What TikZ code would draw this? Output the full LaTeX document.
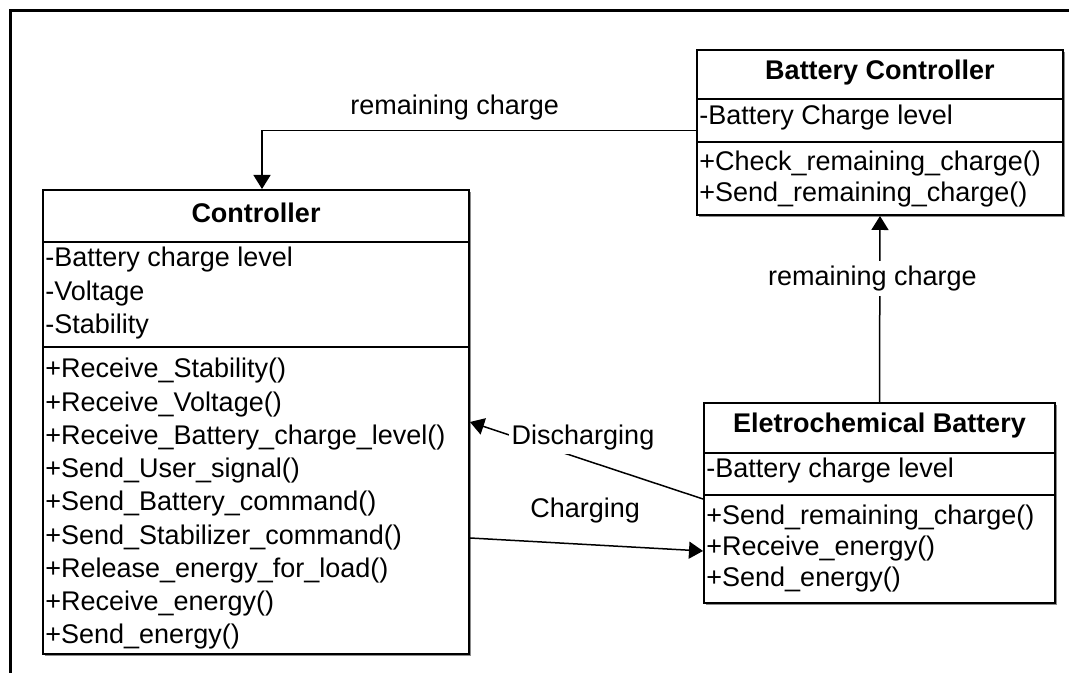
\documentclass[tikz,border=0pt]{standalone}
\usepackage{fontspec}
\setmainfont{Liberation Sans}
\usetikzlibrary{arrows.meta,calc,fit,shadows}

\begin{document}
\begin{tikzpicture}[x=0.5pt,y=0.5pt,
    font=\fontsize{13.5}{16}\selectfont,
    classbox/.style={draw,line width=1pt,fill=white,inner sep=0pt,
      drop shadow={shadow xshift=1pt,shadow yshift=-1pt,fill=black!45,opacity=1}},
    divider/.style={line width=1pt},
    title/.style={font=\fontsize{13.5}{16}\selectfont\bfseries,anchor=base,inner sep=0pt},
    member/.style={anchor=base west,inner sep=0pt},
    conn/.style={line width=0.75pt,-{Triangle[length=7pt,width=8.5pt]}}]
    \useasboundingbox (0,0) rectangle (1069,673);
    \draw[line width=1.5pt] (10,0) -- (10,662) -- (1069,662);

    % Controller
    \node[classbox,fit={(43,19) (469,483)}] (ctrl) {};
    \draw[divider] (ctrl.west |- 0,431) -- (ctrl.east |- 0,431);
    \draw[divider] (ctrl.west |- 0,326) -- (ctrl.east |- 0,326);
    \node[title] (ctrlname) at (ctrl.north |- 0,450) {Controller};
    \foreach \m [count=\i] in {-Battery charge level,-Voltage,-Stability}
      \node[member] (ctrlattr\i) at (45,406-33.5*\i+33.5) {\m};
    \foreach \m [count=\i] in {+Receive\_Stability(),+Receive\_Voltage(),
      +Receive\_Battery\_charge\_level(),+Send\_User\_signal(),
      +Send\_Battery\_command(),+Send\_Stabilizer\_command(),
      +Release\_energy\_for\_load(),+Receive\_energy(),+Send\_energy()}
      \node[member] (ctrlop\i) at (45,295-33.25*\i+33.25) {\m};

    % Battery Controller
    \node[classbox,fit={(697,458) (1063,623)}] (batctrl) {};
    \draw[divider] (batctrl.west |- 0,574) -- (batctrl.east |- 0,574);
    \draw[divider] (batctrl.west |- 0,531) -- (batctrl.east |- 0,531);
    \node[title] (batctrlname) at (batctrl.north |- 0,593) {Battery Controller};
    \node[member] (batctrlattr) at (699,548) {-Battery Charge level};
    \foreach \m [count=\i] in {+Check\_remaining\_charge(),+Send\_remaining\_charge()}
      \node[member] (batctrlop\i) at (699,502-31*\i+31) {\m};

    % Eletrochemical Battery
    \node[classbox,fit={(704,70) (1055,270)}] (echem) {};
    \draw[divider] (echem.west |- 0,220) -- (echem.east |- 0,220);
    \draw[divider] (echem.west |- 0,178) -- (echem.east |- 0,178);
    \node[title] (echemname) at (echem.north |- 0,240) {Eletrochemical Battery};
    \node[member] (echemattr) at (706,195) {-Battery charge level};
    \foreach \m [count=\i] in {+Send\_remaining\_charge(),+Receive\_energy(),+Send\_energy()}
      \node[member] (echemop\i) at (706,148-31*\i+31) {\m};

    % messages
    \draw[conn] ($(batctrl.west)+(0,2)$) -| ($(ctrl.north)+(6,0)$)
      node[pos=0.278,anchor=base,yshift=8pt] (lblrcA) {remaining charge};
    \draw[conn] (echem.north) -- (batctrl.south)
      node[pos=0.665,fill=white,inner sep=2.4pt,xshift=-3.75pt] (lblrcB) {remaining charge};
    \draw[conn] ($(echem.west)+(0,4)$) -- (ctrl.east)
      node[pos=0.515,fill=white,inner sep=1.5pt,yshift=10.7pt] (lbldis) {Discharging};
    \draw[conn] ($(ctrl.east)+(0,-116)$) -- ($(echem.west)+(0,-48)$)
      node[pos=0.494,anchor=base,yshift=13.7pt] (lblchg) {Charging};
\end{tikzpicture}
\end{document}
